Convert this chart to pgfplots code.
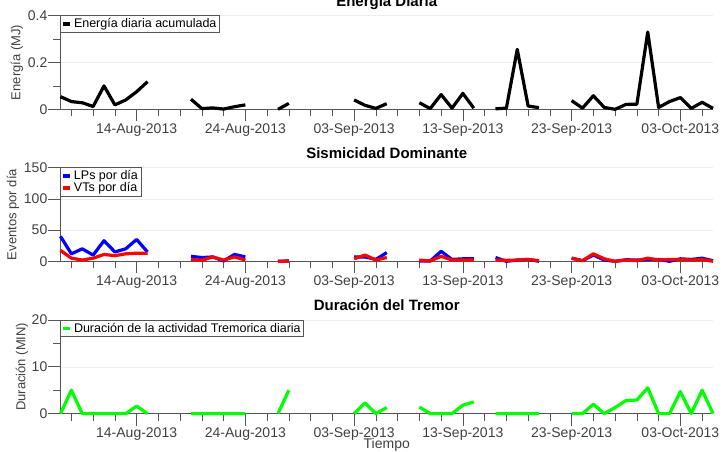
\documentclass[border=0pt]{standalone}
\usepackage{fontspec}
\setmainfont{Liberation Sans}
\usepackage{pgfplots}
\usepackage{pgfplotstable}
\pgfplotsset{compat=1.18}
\definecolor{axgray}{HTML}{555555}
\definecolor{txgray}{HTML}{404040}

\pgfplotstableread{
x y
0 0.054
1 0.033
2 0.028
3 0.012
4 0.100
5 0.019
6 0.040
7 0.075
8 0.118
9 nan
12 0.043
13 0.003
14 0.006
15 0.001
16 0.011
17 0.019
18 nan
20 0.000
21 0.025
22 nan
27 0.040
28 0.017
29 0.004
30 0.024
31 nan
33 0.028
34 0.003
35 0.063
36 0.005
37 0.068
38 0.005
39 nan
40 0.002
41 0.005
42 0.256
43 0.014
44 0.007
45 nan
47 0.037
48 0.005
49 0.058
50 0.008
51 0.000
52 0.021
53 0.022
54 0.330
55 0.008
56 0.033
57 0.050
58 0.004
59 0.030
60 0.004
}\energia

\pgfplotstableread{
x lp vt
0 40 17.5
1 12 5
2 20 2
3 10 5
4 33 11
5 15 9
6 20 12
7 35 13
8 15 13
9 nan nan
12 8 3
13 6 1.5
14 7 7
15 0.5 2
16 11 7
17 7 2
18 nan nan
20 0 0
21 0.5 0.5
22 nan nan
27 7 4
28 7 10
29 3 2
30 14 6
31 nan nan
33 0.5 2
34 0.5 0.5
35 16 8
36 3 2
37 4 2
38 4 2
39 nan nan
40 6 2
41 0 1.5
42 2 2
43 3 3
44 0 1
45 nan nan
47 5 5
48 1 1
49 10 12
50 2 4
51 0 0
52 2.5 2
53 2 1
54 3 5
55 3 2
56 0 3
57 4 3
58 3 2
59 5 3
60 1 0
}\sismo

\pgfplotstableread{
x y
0 0
1 5
2 0
3 0
4 0
5 0
6 0
7 1.6
8 0
9 nan
12 0
13 0
14 0
15 0
16 0
17 0
18 nan
20 0
21 5
22 nan
27 0
28 2.3
29 0
30 1.3
31 nan
33 1.4
34 0
35 0
36 0
37 1.8
38 2.5
39 nan
40 0
41 0
42 0
43 0
44 0
45 nan
47 0
48 0
49 2
50 0
51 1.3
52 2.8
53 2.9
54 5.5
55 0
56 0
57 4.7
58 0
59 5
60 0
}\tremor

\pgfplotsset{
  every axis title shift=0pt,
  panel/.style={
    scale only axis,
    width=652.5pt, height=93.6pt,
    anchor=north west,
    xmin=0, xmax=60,
    ymin=0,
    clip=false,
    unbounded coords=jump,
    axis x line*=bottom,
    axis y line*=left,
    axis line style={-, draw=axgray, line width=0.7pt},
    tick align=outside,
    major tick length=12pt,
    minor tick length=7pt,
    tick style={axgray, line width=0.7pt},
    xtick={7,17,27,37,47,57},
    xticklabels={14-Aug-2013,24-Aug-2013,03-Sep-2013,13-Sep-2013,23-Sep-2013,03-Oct-2013},
    minor xtick={1,3,...,59},
    ymajorgrids,
    major grid style={draw=black!7, line width=0.6pt},
    /pgf/number format/assume math mode=true,
    ticklabel style={font=\fontsize{14}{16}\selectfont, text=txgray},
    xticklabel style={inner sep=1pt, yshift=-1pt},
    yticklabel style={inner sep=1pt},
    title style={font=\fontsize{15}{17}\selectfont\bfseries, at={(axis description cs:0.5,1)}, anchor=base, yshift=9.5pt},
    ylabel style={font=\fontsize{13}{15}\selectfont, text=txgray, anchor=center},
    legend style={at={(axis description cs:0,1)}, anchor=north west, draw=axgray, line width=0.6pt,
      font=\fontsize{12.5}{14}\selectfont, inner sep=1pt, outer sep=0pt, row sep=-3pt, fill=white},
    legend cell align=left,
    legend image code/.code={\draw[#1, line width=3.5pt] (0pt,0pt) -- (7pt,0pt);},
    every axis plot/.append style={line width=3.2pt, line join=round},
  }
}

\begin{document}
\begin{tikzpicture}
\begin{axis}[panel, at={(60.5pt,-15.7pt)}, ymax=0.4,
  ytick={0,0.2,0.4}, minor ytick={0.1,0.3},
  yticklabels={0,0.2,0.4},
  title={Energía Diaria},
  ylabel={Energía (MJ)},
  ylabel style={at={(axis description cs:-0.0667,0.5)}}]
\addplot[black] table[x=x,y=y] {\energia};
\addlegendentry{Energía diaria acumulada}
\end{axis}

\begin{axis}[panel, at={(60.5pt,-167.7pt)}, ymax=150,
  ytick={0,50,100,150},
  title={Sismicidad Dominante},
  ylabel={Eventos por día},
  ylabel style={at={(axis description cs:-0.0728,0.5)}}]
\addplot[blue] table[x=x,y=lp] {\sismo};
\addlegendentry{LPs por día}
\addplot[red] table[x=x,y=vt] {\sismo};
\addlegendentry{VTs por día}
\end{axis}

\begin{axis}[panel, at={(60.5pt,-320pt)}, ymax=20,
  ytick={0,10,20}, minor ytick={5,15},
  title={Duración del Tremor},
  ylabel={Duración (MIN)},
  ylabel style={at={(axis description cs:-0.059,0.5)}},
  xlabel={Tiempo},
  xlabel style={font=\fontsize{14}{16}\selectfont, text=txgray, at={(axis description cs:0.5,0)}, anchor=center, yshift=-31pt}]
\addplot[green] table[x=x,y=y] {\tremor};
\addlegendentry{Duración de la actividad Tremorica diaria}
\end{axis}

\pgfresetboundingbox
\path[use as bounding box] (0pt,0pt) rectangle (725pt,-451pt);
\end{tikzpicture}
\end{document}
